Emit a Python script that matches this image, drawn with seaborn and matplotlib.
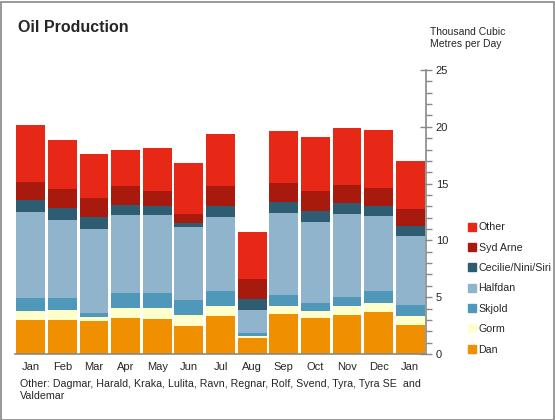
import matplotlib
matplotlib.use("Agg")
import matplotlib.pyplot as plt
import seaborn as sns
import numpy as np
import pandas as pd
from matplotlib.lines import Line2D
from matplotlib.patches import Rectangle

months = ["Jan", "Feb", "Mar", "Apr", "May", "Jun", "Jul", "Aug", "Sep", "Oct", "Nov", "Dec", "Jan"]
dan      = [3.00, 3.00, 2.90, 3.17, 3.08, 2.46, 3.35, 1.41, 3.52, 3.17, 3.43, 3.70, 2.55]
gorm     = [0.78, 0.87, 0.36, 0.88, 0.97, 0.97, 0.88, 0.17, 0.71, 0.61, 0.80, 0.79, 0.80]
skjold   = [1.15, 1.06, 0.34, 1.32, 1.32, 1.32, 1.32, 0.27, 0.96, 0.71, 0.79, 1.06, 0.96]
halfdan  = [7.57, 6.87, 7.40, 6.86, 6.86, 6.43, 6.51, 2.02, 7.22, 7.13, 7.30, 6.60, 6.08]
cecilie  = [1.10, 1.05, 1.06, 0.87, 0.80, 0.35, 0.97, 0.97, 0.97, 0.97, 0.97, 0.88, 0.88]
syd_arne = [1.54, 1.67, 1.67, 1.69, 1.32, 0.79, 1.76, 1.76, 1.67, 1.76, 1.59, 1.58, 1.49]
other    = [5.02, 4.32, 3.87, 3.17, 3.79, 4.49, 4.58, 4.14, 4.58, 4.75, 5.02, 5.11, 4.23]

series_names = ["Dan", "Gorm", "Skjold", "Halfdan", "Cecilie/Nini/Siri", "Syd Arne", "Other"]
series_vals = [dan, gorm, skjold, halfdan, cecilie, syd_arne, other]
colors = ["#F09000", "#FFFFCC", "#5098BA", "#8FB4CC", "#2D5C73", "#A81A0E", "#E82817"]

keys = [f"{m}_{i}" for i, m in enumerate(months)]
cum = np.cumsum(np.array(series_vals), axis=0)

sns.set_style("white")
plt.rcParams["font.family"] = ["Liberation Sans", "DejaVu Sans"]

fig = plt.figure(figsize=(5.55, 4.2), dpi=100)
ax = fig.add_axes([15/555, 1 - 354/420, (426 - 15)/555, (354 - 70)/420])

for idx in range(len(series_names) - 1, -1, -1):
    df = pd.DataFrame({"key": keys, "val": cum[idx]})
    sns.barplot(data=df, x="key", y="val", order=keys, color=colors[idx],
                saturation=1, width=0.91, ax=ax, linewidth=0, errorbar=None)

ax.set_xlim(-0.5, len(months) - 0.5)
ax.set_ylim(0, 25)
ax.set_xlabel("")
ax.set_ylabel("")

gray = "#888888"
for s in ["left", "top"]:
    ax.spines[s].set_visible(False)
for s in ["right", "bottom"]:
    ax.spines[s].set_color(gray)
    ax.spines[s].set_linewidth(1.2)

# x ticks: boundaries as major ticks, labels centered
ax.set_xticks(np.arange(-0.5, len(months), 1.0))
ax.set_xticklabels([])
ax.set_xticks(np.arange(len(months)), minor=True)
ax.set_xticklabels(months, minor=True, fontsize=8)
ax.tick_params(axis="x", which="major", direction="out", length=4, color=gray, width=1)
ax.tick_params(axis="x", which="minor", length=0, pad=6)

ax.yaxis.tick_right()
ax.set_yticks(np.arange(0, 26, 5))
ax.set_yticks(np.arange(0, 26, 1), minor=True)
ax.set_yticklabels([str(v) for v in range(0, 26, 5)], fontsize=8)
ax.tick_params(axis="y", which="major", direction="inout", length=8, color=gray, width=1, pad=3)
ax.tick_params(axis="y", which="minor", direction="out", length=4, color=gray, width=1)
ax.grid(False)

fig.text(18/555, 1 - 28/420, "Oil Production", fontsize=11.5, fontweight="bold", va="center", ha="left")
fig.text(430/555, 1 - 38/420, "Thousand Cubic\nMetres per Day", fontsize=7.5, va="center", ha="left", linespacing=1.25)
fig.text(20/555, 1 - 390/420, "Other: Dagmar, Harald, Kraka, Lulita, Ravn, Regnar, Rolf, Svend, Tyra, Tyra SE  and\nValdemar",
         fontsize=7.7, va="center", ha="left", linespacing=1.15)

handles = [Line2D([0], [0], marker="s", linestyle="none", markersize=5.5,
                  markerfacecolor=colors[i], markeredgecolor=colors[i]) for i in range(len(series_names) - 1, -1, -1)]
labels = series_names[::-1]
fig.legend(handles, labels, loc="upper left", bbox_to_anchor=(462/555, 1 - 218/420), frameon=False,
           fontsize=7.7, handletextpad=0.15, labelspacing=0.97, borderaxespad=0, handlelength=1.0)

fig.patches.append(Rectangle((0.5/555, 0.5/420), 1 - 2/555, 1 - 2/420, transform=fig.transFigure,
                             fill=False, edgecolor="#888888", linewidth=1.2))

fig.savefig("out.png", dpi=100)
